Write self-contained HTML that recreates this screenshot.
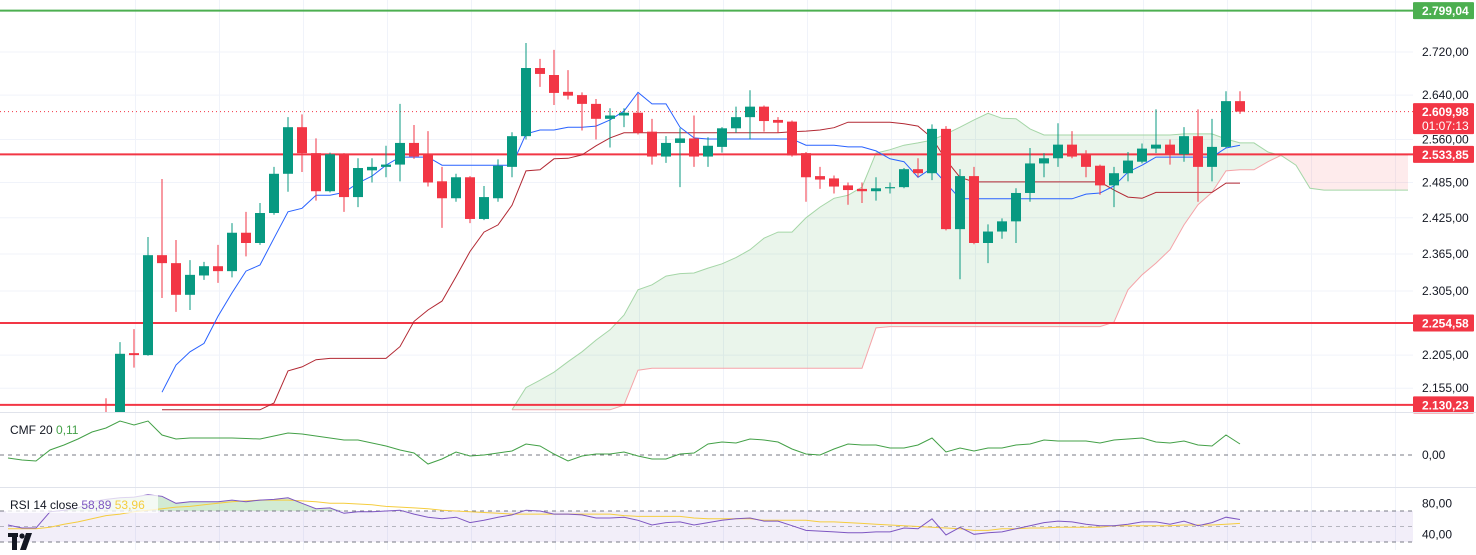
<!DOCTYPE html>
<html><head><meta charset="utf-8">
<style>
html,body{margin:0;padding:0;background:#fff;}
body{width:1476px;height:550px;overflow:hidden;font-family:"Liberation Sans",sans-serif;}
svg text{font-family:"Liberation Sans",sans-serif;}
</style></head>
<body>
<svg id="chart" width="1476" height="550" xmlns="http://www.w3.org/2000/svg">
  <defs>
    <clipPath id="mainClip"><rect x="0" y="0" width="1413" height="412"/></clipPath>
    <clipPath id="cmfClip"><rect x="0" y="413" width="1413" height="74"/></clipPath>
    <clipPath id="rsiClip"><rect x="0" y="488" width="1413" height="62"/></clipPath>
  </defs>
  <g id="grid"></g>
  <g id="cloud" clip-path="url(#mainClip)"></g>
  <g id="levels"></g>
  <g id="lines" clip-path="url(#mainClip)"></g>
  <g id="candles" clip-path="url(#mainClip)"></g>
  <g id="axis"></g>
  <g id="cmf"></g>
  <g id="rsi"></g>
  <line x1="0" y1="412.5" x2="1476" y2="412.5" stroke="#E0E3EB"/>
  <line x1="0" y1="487.5" x2="1476" y2="487.5" stroke="#E0E3EB"/>
  <text x="10" y="434" font-size="12" fill="#131722">CMF 20 <tspan fill="#43A047">0,11</tspan></text>
  <rect x="6" y="495" width="152" height="18" fill="rgba(255,255,255,0.75)"/>
  <text x="10" y="509" font-size="12" fill="#131722">RSI 14 close <tspan fill="#7E57C2">58,89</tspan> <tspan fill="#F5CD3F">53,96</tspan></text>
  <g>
    <rect x="8" y="533" width="10" height="4" fill="#131722"/>
    <rect x="12" y="533" width="5" height="17" fill="#131722"/>
    <circle cx="22" cy="536" r="2.6" fill="#131722"/>
    <polygon points="26,533 32,533 26,550 20,550" fill="#131722"/>
  </g>
</svg>
<script>
const opens=[2115,2090,2208,2205,2363,2350,2299,2330,2345,2337,2400,2383,2433,2500,2582,2536,2470,2534,2460,2506,2512,2516,2554,2534,2487,2458,2494,2423,2458,2512,2566,2690,2677,2646,2640,2624,2597,2603,2608,2574,2530,2554,2562,2530,2547,2580,2600,2619,2595,2592,2536,2496,2492,2480,2474,2470,2475,2477,2508,2501,2579,2406,2496,2383,2402,2419,2467,2518,2527,2551,2534,2514,2480,2501,2521,2544,2551,2534,2566,2512,2547,2629];
const highs=[2140,2225,2245,2393,2491,2388,2355,2352,2380,2416,2435,2450,2512,2600,2605,2562,2537,2536,2527,2527,2549,2624,2586,2575,2512,2500,2496,2479,2525,2573,2737,2707,2724,2686,2645,2633,2616,2616,2642,2597,2566,2580,2603,2564,2582,2619,2649,2621,2600,2594,2538,2512,2497,2485,2485,2494,2485,2510,2527,2587,2584,2508,2512,2414,2424,2475,2545,2536,2589,2575,2541,2516,2512,2538,2553,2614,2560,2582,2614,2597,2647,2647];
const lows=[2100,2080,2186,2204,2294,2272,2275,2323,2318,2327,2361,2380,2430,2469,2503,2454,2468,2435,2443,2485,2494,2487,2526,2478,2408,2452,2416,2421,2452,2494,2560,2655,2622,2632,2576,2560,2546,2582,2569,2516,2519,2477,2512,2512,2537,2572,2560,2574,2572,2530,2452,2474,2466,2447,2450,2454,2466,2475,2494,2489,2404,2324,2381,2350,2390,2383,2452,2494,2512,2527,2494,2464,2443,2487,2518,2536,2516,2521,2452,2487,2545,2606];
const closes=[2105,2207,2205,2363,2350,2299,2331,2345,2337,2400,2383,2433,2500,2582,2536,2470,2534,2460,2510,2512,2516,2554,2530,2485,2458,2494,2423,2460,2514,2566,2690,2679,2644,2639,2624,2597,2603,2608,2572,2530,2554,2562,2530,2549,2580,2600,2619,2593,2590,2532,2494,2490,2478,2472,2470,2475,2477,2508,2501,2579,2406,2496,2383,2402,2419,2467,2518,2527,2551,2530,2512,2480,2501,2523,2544,2551,2534,2566,2512,2547,2629,2610];
const tenkan=[null,null,null,null,2149,2190,2210,2223,2265,2302,2337,2347,2391,2435,2441,2463,2463,2468,2484,2496,2515,2529,2529,2529,2515,2515,2515,2515,2515,2515,2570,2577,2577,2582,2582,2584,2595,2611,2645,2624,2624,2582,2563,2561,2561,2561,2561,2561,2561,2561,2550,2550,2550,2547,2547,2540,2526,2521,2494,2510,2484,2457,2457,2457,2457,2457,2457,2457,2457,2457,2465,2467,2479,2503,2515,2529,2529,2529,2529,2529,2545,2550];
const kijun=[null,null,null,null,2123,2123,2123,2123,2123,2123,2123,2123,2133,2181,2187,2198,2200,2200,2200,2200,2200,2218,2257,2275,2289,2328,2369,2401,2413,2446,2505,2507,2526,2527,2533,2549,2563,2572,2572,2572,2572,2572,2572,2572,2572,2572,2572,2572,2572,2574,2575,2577,2581,2591,2591,2591,2591,2588,2584,2563,2524,2494,2486,2486,2486,2486,2486,2486,2486,2486,2486,2486,2472,2460,2458,2468,2468,2468,2468,2468,2484,2484];
const cloudStart=29;
const spanA=[2123,2156,2167,2179,2195,2210,2228,2244,2267,2307,2315,2329,2333,2334,2342,2349,2359,2372,2391,2401,2401,2425,2443,2458,2463,2477,2536,2542,2550,2554,2559,2570,2582,2595,2607,2598,2597,2579,2568,2568,2568,2568,2568,2568,2568,2568,2568,2568,2570,2570,2570,2561,2554,2554,2538,2531,2515,2475,2472,2472,2472,2472,2472,2472,2472];
const spanB=[2123,2123,2123,2123,2123,2123,2123,2123,2130,2182,2185,2185,2185,2185,2185,2185,2185,2185,2185,2185,2185,2185,2185,2185,2185,2185,2247,2249,2249,2249,2249,2249,2249,2249,2249,2249,2249,2249,2249,2249,2249,2249,2249,2256,2307,2331,2350,2372,2413,2447,2468,2505,2507,2507,2521,2533,2533,2533,2533,2533,2533,2533,2533,2533,2533];
const indStart=-7;
const cmfValues=[-0.03,-0.05,-0.06,0.05,0.10,0.16,0.23,0.27,0.34,0.30,0.34,0.20,0.16,0.17,0.17,0.17,0.17,0.165,0.16,0.19,0.22,0.21,0.19,0.17,0.15,0.15,0.12,0.09,0.05,0.02,-0.09,-0.04,0.03,-0.01,0.00,0.02,0.04,0.11,0.09,0.01,-0.06,-0.01,0.01,0.01,0.03,-0.01,-0.04,-0.04,0.01,0.02,0.11,0.13,0.12,0.16,0.15,0.13,0.06,0.01,0.00,0.06,0.11,0.10,0.10,0.07,0.07,0.10,0.17,0.03,0.07,0.04,0.07,0.07,0.10,0.11,0.15,0.14,0.14,0.14,0.12,0.15,0.16,0.17,0.13,0.12,0.14,0.10,0.09,0.20,0.11];
const rsiValues=[52,48,48,69,71,74,82,85,87,88,91,89,80,82,82,82,84,82,84,85,87,80,73,74,67,69,69,70,71,66,62,60,62,55,58,62,65,71,70,66,66,65,61,61,62,58,52,55,56,52,55,58,60,61,57,57,51,45,44,43,42,42,43,43,48,47,60,39,49,40,42,43,47,51,55,57,56,53,51,51,53,56,56,53,57,51,55,62,59];
const rsiMA=[47,47,47,49,53,56,60,64,66,69,71,73,75,76,78,80,82,83,84,84,84,83,82,80,80,79,78,76,75,74,73,71,70,69,68,67,66,66,66,66,66,66,66,66,64,63,63,63,63,61,60,60,60,60,58,58,58,58,56,56,55,54,53,52,51,50,49,48,47,45,45,47,47,48,48,49,49,49,49,51,51,51,51,51,52,52,52,53,54];
const priceTicks=[2720,2640,2560,2485,2425,2365,2305,2205,2155];
const levelValues=[2533.85,2254.58,2130.23];
const resistanceValue=2799.04;
const lastPrice=2609.98;

const NS='http://www.w3.org/2000/svg';
function el(tag,attrs,parent){const e=document.createElementNS(NS,tag);for(const k in attrs)e.setAttribute(k,attrs[k]);parent.appendChild(e);return e;}
function fmt(v){const s=v.toFixed(2).replace('.',',');const p=s.split(',');return p[0].replace(/\B(?=(\d{3})+(?!\d))/g,'.')+','+p[1];}
const xOf=i=>106+14*i;
const yP=p=>52+1444*Math.log(2720/p);
const yCMF=v=>455-100*v;
const yRSI=v=>511+(70-v)*0.775;

// grid
const grid=document.getElementById('grid');
for(let x=135;x<1413;x+=84){const l=el('line',{x1:x+0.5,y1:0,x2:x+0.5,y2:550,stroke:'#F0F3FA'},grid);}
priceTicks.forEach(p=>{const l=el('line',{x1:0,y1:yP(p),x2:1413,y2:yP(p),stroke:'#F0F3FA'},grid);});

// cloud
const cloud=document.getElementById('cloud');
for(let k=0;k<spanA.length-1;k++){
  const x1=xOf(cloudStart+k),x2=xOf(cloudStart+k+1);
  const a1=spanA[k],a2=spanA[k+1],b1=spanB[k],b2=spanB[k+1];
  const d1=a1-b1,d2=a2-b2;
  const segs=[];
  if(d1*d2<0){const t=d1/(d1-d2);const xm=x1+t*(x2-x1);const pm=a1+t*(a2-a1);
    segs.push([x1,a1,b1,xm,pm,pm,d1>=0]);segs.push([xm,pm,pm,x2,a2,b2,d2>=0]);}
  else segs.push([x1,a1,b1,x2,a2,b2,(d1+d2)>=0]);
  segs.forEach(s=>{const q=el('polygon',{points:`${s[0]},${yP(s[1])} ${s[3]},${yP(s[4])} ${s[3]},${yP(s[5])} ${s[0]},${yP(s[2])}`,fill:s[6]?'rgba(67,160,71,0.11)':'rgba(242,54,69,0.10)'},cloud);
    });
}
function poly(arr,start,yf,color,w,parent,name){
  let pts=[];arr.forEach((v,k)=>{if(v!==null)pts.push(xOf(start+k)+','+yf(v).toFixed(1));});
  const p=el('polyline',{points:pts.join(' '),fill:'none',stroke:color,'stroke-width':w},parent);
  return p;}
poly(spanA,cloudStart,yP,'#A5D6A7',1,cloud,'senkou-span-a');
poly(spanB,cloudStart,yP,'#F5A3A8',1,cloud,'senkou-span-b');

// levels
const lv=document.getElementById('levels');
let g=el('line',{x1:0,y1:yP(resistanceValue),x2:1413,y2:yP(resistanceValue),stroke:'#4CAF50','stroke-width':2},lv);

levelValues.forEach(v=>{const l=el('line',{x1:0,y1:yP(v),x2:1413,y2:yP(v),stroke:'#F23645','stroke-width':2},lv);
  });
const cp=el('line',{x1:0,y1:yP(lastPrice),x2:1413,y2:yP(lastPrice),stroke:'#F23645','stroke-width':1,'stroke-dasharray':'1 3'},lv);


// ichimoku lines
const ln=document.getElementById('lines');
poly(kijun,0,yP,'#B22833',1,ln,'kijun-line');
poly(tenkan,0,yP,'#2962FF',1,ln,'tenkan-line');

// candles
const cg=document.getElementById('candles');
opens.forEach((o,i)=>{
  const c=closes[i],up=c>=o,col=up?'#089981':'#F23645',x=xOf(i);
  const w=el('line',{x1:x,y1:yP(highs[i]),x2:x,y2:yP(lows[i]),stroke:col,'stroke-width':1},cg);
  
  const yt=yP(Math.max(o,c)),yb=yP(Math.min(o,c));
  const b=el('rect',{x:x-5,y:yt,width:10,height:Math.max(1,yb-yt),fill:col},cg);
  
});

// axis
const ax=document.getElementById('axis');
priceTicks.forEach(p=>{const t=el('text',{x:1422,y:yP(p)+4,'font-size':12,fill:'#131722'},ax);t.textContent=fmt(p);
  });
function tag(v,color,name,extra){
  const y=yP(v);const h=extra?31:17;const r=el('rect',{x:1413,y:y-8.5,width:61,height:h,fill:color,rx:1},ax);
  
  const t=el('text',{x:1422,y:y+4.5,'font-size':12,fill:'#fff','font-weight':'bold'},ax);t.textContent=fmt(v);
  
  if(extra){const t2=el('text',{x:1422,y:y+18.5,'font-size':12,fill:'#fff'},ax);t2.textContent=extra;
    }
}
tag(resistanceValue,'#4CAF50','resistance-label');
tag(lastPrice,'#F23645','last-price-label','01:07:13');
levelValues.forEach(v=>tag(v,'#F23645','support-label'));

// CMF
const cm=document.getElementById('cmf');
const z=el('line',{x1:0,y1:yCMF(0),x2:1413,y2:yCMF(0),stroke:'#787B86','stroke-dasharray':'4 4'},cm);

const zl=el('text',{x:1422,y:yCMF(0)+4,'font-size':12,fill:'#131722'},cm);zl.textContent='0,00';

poly(cmfValues,indStart,yCMF,'#43A047',1,cm,'cmf-line');

// RSI
const rs=document.getElementById('rsi');
const band=el('rect',{x:0,y:yRSI(70),width:1413,height:yRSI(30)-yRSI(70),fill:'rgba(126,87,194,0.1)'},rs);

// overbought fill
let fillPts=[];rsiValues.forEach((v,k)=>{fillPts.push(xOf(indStart+k)+','+yRSI(Math.max(v,70)).toFixed(1));});
fillPts.push(xOf(indStart+rsiValues.length-1)+','+yRSI(70));fillPts.push(xOf(indStart)+','+yRSI(70));
const of=el('polygon',{points:fillPts.join(' '),fill:'rgba(76,175,80,0.25)'},rs);

[70,50,30].forEach(v=>{const l=el('line',{x1:0,y1:yRSI(v),x2:1413,y2:yRSI(v),stroke:'#787B86','stroke-dasharray':'4 4','stroke-opacity':v==50?0.5:1},rs);
  });
[80,40].forEach(v=>{const t=el('text',{x:1422,y:yRSI(v)+4,'font-size':12,fill:'#131722'},rs);t.textContent=v+',00';
  });
poly(rsiMA,indStart,yRSI,'#F5CD3F',1,rs,'rsi-ma-line');
poly(rsiValues,indStart,yRSI,'#7E57C2',1,rs,'rsi-line');
</script>
</body></html>
